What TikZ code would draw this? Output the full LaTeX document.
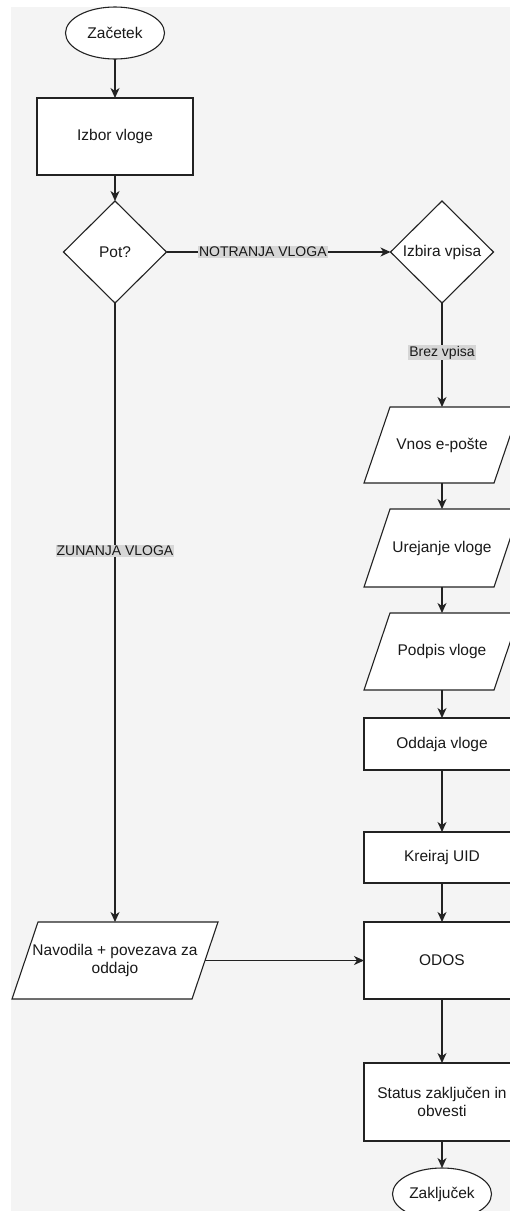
\documentclass[tikz,border=0pt]{standalone}
\usepackage{fontspec}
\setmainfont{Liberation Sans}
\usetikzlibrary{shapes.geometric,arrows.meta}
\pgfdeclarelayer{background}
\pgfsetlayers{background,main}
\definecolor{bgcol}{HTML}{F4F4F4}
\definecolor{lblcol}{HTML}{D6D6D6}
\definecolor{linecol}{HTML}{222222}
\begin{document}
\begin{tikzpicture}[x=1pt,y=-1pt,
  base/.style={inner sep=2pt,outer sep=0pt,align=center,text=black!90,
    font=\fontsize{15.5}{18}\selectfont,line width=1.1pt,draw=linecol},
  rectbox/.style={base,rectangle,fill=white,minimum width=156pt},
  paratext/.style={base,rectangle,draw=none,minimum width=156pt,minimum height=77pt},
  ovalbox/.style={base,ellipse,fill=white,minimum width=99pt,minimum height=52pt,inner sep=0pt},
  decision/.style={base,diamond,fill=white,minimum width=103pt,minimum height=102pt,inner sep=0pt},
  flow/.style={line width=1.1pt,draw=linecol,-{Stealth[length=10pt,width=9pt,inset=3pt]}},
  elabel/.style={fill=lblcol,inner sep=1pt,text=black!90,font=\fontsize{14}{16}\selectfont}
]
\clip (0,0) rectangle (510,1211);
\begin{pgfonlayer}{background}
  \fill[white] (0,0) rectangle (510,1211);
  \fill[bgcol] (11,7) rectangle (530,1230);
\end{pgfonlayer}

% left column
\node[ovalbox] (zac) at (115,33) {Začetek};
\node[rectbox,minimum height=77pt] (izbor) at (115,136.5) {Izbor vloge};
\node[decision] (pot) at (115,252) {Pot?};
\node[paratext,minimum width=206pt] (nav) at (115,960.5) {Navodila + povezava za\\oddajo};

% right column
\node[decision] (izbira) at (442,252) {Izbira vpisa};
\node[paratext,minimum height=76pt] (vnos) at (442,445) {Vnos e-pošte};
\node[paratext,minimum height=78pt] (urej) at (442,548) {Urejanje vloge};
\node[paratext] (podpis) at (442,651.5) {Podpis vloge};
\node[rectbox,minimum height=52pt] (oddaja) at (442,744) {Oddaja vloge};
\node[rectbox,minimum height=51pt] (kreiraj) at (442,857.5) {Kreiraj UID};
\node[rectbox,minimum height=77pt] (odos) at (442,960.5) {ODOS};
\node[rectbox,minimum height=78pt] (status) at (442,1102) {Status zaključen in\\obvesti};
\node[ovalbox] (zak) at (442,1194) {Zaključek};

% parallelogram outlines
\begin{pgfonlayer}{background}
\foreach \n in {vnos,urej,podpis,nav}{
  \draw[fill=white,line width=1.1pt,draw=linecol]
    ([xshift=26pt]\n.north west) -- (\n.north east)
    -- ([xshift=-26pt]\n.south east) -- (\n.south west) -- cycle;
}
\end{pgfonlayer}
\coordinate (navR) at ([xshift=-13pt]nav.east);

% connectors
\draw[flow] (zac) -- (izbor);
\draw[flow] (izbor) -- (pot);
\draw[flow] (pot.east) -- node[elabel,pos=0.43] {NOTRANJA VLOGA} (izbira.west);
\draw[flow] (pot.south) -- node[elabel,pos=0.4] {ZUNANJA VLOGA} (nav.north);
\draw[flow] (izbira.south) -- node[elabel,pos=0.48] {Brez vpisa} (vnos.north);
\draw[flow] (vnos) -- (urej);
\draw[flow] (urej) -- (podpis);
\draw[flow] (podpis) -- (oddaja);
\draw[flow] (oddaja) -- (kreiraj);
\draw[flow] (kreiraj) -- (odos);
\draw[flow] (navR) -- (odos.west);
\draw[flow] (odos) -- (status);
\draw[flow] (status) -- (zak);
\end{tikzpicture}
\end{document}
